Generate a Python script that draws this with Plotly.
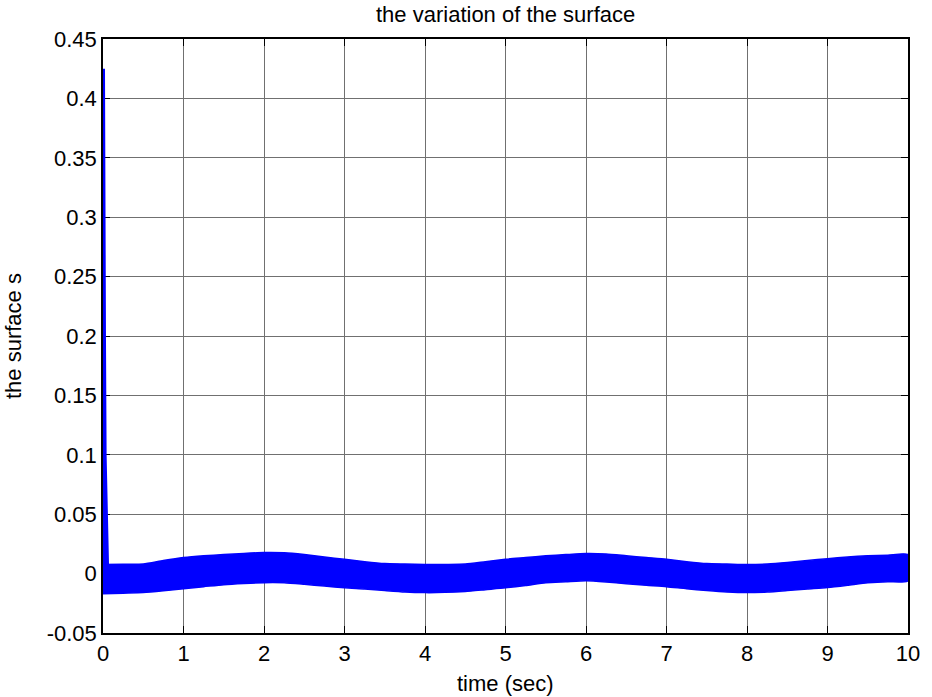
import plotly.graph_objects as go

# Sliding-surface response: initial transient plus the chattering band
spike_t = [0.0, 0.004, 0.012, 0.02, 0.03, 0.05]
spike_s = [0.425, 0.33, 0.2, 0.1, 0.07, 0.007]

band_t = [0, 0.25, 0.5, 0.75, 1, 1.25, 1.5, 1.75, 2, 2.25, 2.5, 2.75, 3, 3.25, 3.5, 3.75,
          4, 4.25, 4.5, 4.75, 5, 5.25, 5.5, 5.75, 6, 6.25, 6.5, 6.75, 7, 7.25, 7.5, 7.75,
          8, 8.25, 8.5, 8.75, 9, 9.25, 9.5, 9.75, 10]
band_upper = [0.0076, 0.0078, 0.008, 0.011, 0.0135, 0.015, 0.016, 0.017, 0.0177, 0.0175, 0.016,
              0.014, 0.012, 0.010, 0.0084, 0.008, 0.0076, 0.0077, 0.008, 0.010, 0.012, 0.0135,
              0.015, 0.016, 0.0169, 0.0165, 0.015, 0.0135, 0.012, 0.010, 0.0084, 0.008, 0.0076,
              0.008, 0.0093, 0.011, 0.0126, 0.014, 0.015, 0.0155, 0.016]
band_lower = [-0.017, -0.0165, -0.016, -0.0145, -0.0127, -0.011, -0.0093, -0.0083, -0.0076, -0.0077,
              -0.009, -0.0105, -0.012, -0.013, -0.0143, -0.0155, -0.016, -0.0158, -0.015, -0.0135,
              -0.012, -0.010, -0.0076, -0.0068, -0.006, -0.007, -0.0085, -0.0098, -0.011, -0.0128,
              -0.0143, -0.0155, -0.016, -0.0155, -0.0143, -0.013, -0.0118, -0.0098, -0.0076,
              -0.0068, -0.006]

x_ticks = [0, 1, 2, 3, 4, 5, 6, 7, 8, 9, 10]
x_tick_text = ["0", "1", "2", "3", "4", "5", "6", "7", "8", "9", "10"]
y_ticks = [-0.05, 0, 0.05, 0.1, 0.15, 0.2, 0.25, 0.3, 0.35, 0.4, 0.45]
y_tick_text = ["-0.05", "0", "0.05", "0.1", "0.15", "0.2", "0.25", "0.3", "0.35", "0.4", "0.45"]

BLUE = "#0000ff"
FONT = "Liberation Sans, Arial, sans-serif"
FONT_SIZE = 22

fig = go.Figure()

# Filled band: upper envelope forward, lower envelope back
fig.add_trace(go.Scatter(
    x=band_t + band_t[::-1],
    y=band_upper + band_lower[::-1],
    fill="toself", fillcolor=BLUE,
    line=dict(color=BLUE, width=1.5, shape="spline", smoothing=0.6),
    mode="lines", hoverinfo="skip", showlegend=False,
))

# Initial transient
fig.add_trace(go.Scatter(
    x=[spike_t[0]] + spike_t, y=[band_lower[0]] + spike_s,
    mode="lines", line=dict(color=BLUE, width=4),
    showlegend=False,
))

axis_common = dict(
    showline=True, linecolor="black", linewidth=1.5, mirror="ticks",
    ticks="inside", ticklen=7, tickwidth=1, tickcolor="black",
    showgrid=True, gridcolor="#707070", gridwidth=1,
    zeroline=False, layer="below traces",
    tickfont=dict(family=FONT, size=FONT_SIZE, color="black"),
)

fig.update_xaxes(range=[0, 10], tickvals=x_ticks, ticktext=x_tick_text, **axis_common)
fig.update_yaxes(range=[-0.05, 0.45], tickvals=y_ticks, ticktext=y_tick_text, **axis_common)

label_font = dict(family=FONT, size=FONT_SIZE, color="black")
fig.update_layout(
    width=932, height=697,
    margin=dict(l=103, r=15, t=39, b=64),
    paper_bgcolor="white", plot_bgcolor="white",
    font=label_font,
    showlegend=False,
    annotations=[
        dict(text="the variation of the surface", xref="paper", yref="paper",
             x=0.5, y=1, yshift=25, xanchor="center", yanchor="middle",
             showarrow=False, font=label_font),
        dict(text="time (sec)", xref="paper", yref="paper",
             x=0.5, y=0, yshift=-50, xanchor="center", yanchor="middle",
             showarrow=False, font=label_font),
        dict(text="the surface s", xref="paper", yref="paper",
             x=0, xshift=-90, y=0.5, xanchor="center", yanchor="middle", textangle=-90,
             showarrow=False, font=label_font),
    ],
)

fig.write_html("out.html")
